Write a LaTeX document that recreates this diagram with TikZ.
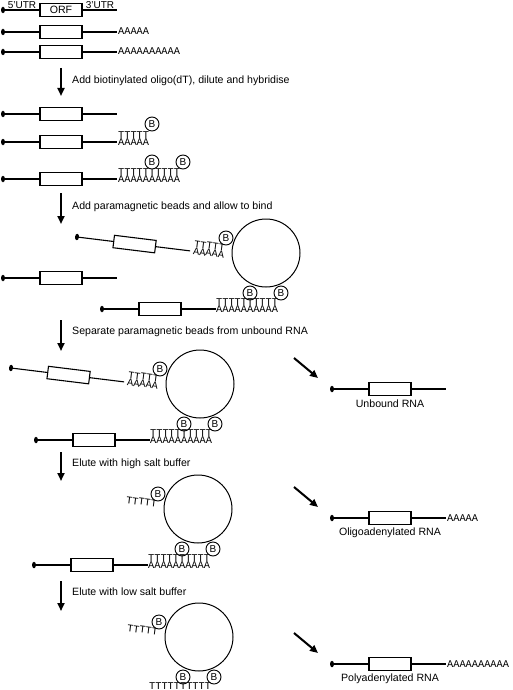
\documentclass[tikz,border=0pt]{standalone}
\usepackage{fontspec}
\setmainfont{Liberation Sans}
\newfontfamily\seqfont{Liberation Mono}
\usetikzlibrary{arrows.meta,shapes.geometric}
\tikzset{
  strand/.style={line width=1.1pt},
  orf/.style={draw, line width=1.1pt, fill=white, rectangle, minimum width=42pt, minimum height=12.5pt, inner sep=0pt},
  capdot/.style={ellipse, fill=black, minimum width=4pt, minimum height=6.5pt, inner sep=0pt},
  seq/.style={inner sep=0pt, text height=6pt, text depth=0pt, font=\seqfont\fontsize{10.3}{10}\selectfont},
  bead/.style={circle, draw, line width=1pt, minimum size=68pt, inner sep=0pt},
  biotin/.style={circle, draw, line width=0.9pt, fill=white, minimum size=14pt, inner sep=0pt, font=\fontsize{10}{10}\selectfont},
  steparrow/.style={line width=2pt, -{Triangle[length=8pt,width=7pt]}},
  diagarrow/.style={line width=2pt, -{Triangle[length=8pt,width=7pt]}},
  steptext/.style={anchor=west, inner sep=0pt, font=\fontsize{10.6}{12}\selectfont},
  prodtext/.style={anchor=center, inner sep=0pt, font=\fontsize{10.6}{12}\selectfont},
  utrtext/.style={anchor=base, inner sep=0pt, font=\fontsize{10}{11}\selectfont},
  rna/.pic={
    \node[capdot] (-cap) at (0,0) {};
    \node[orf] (-orf) at (58,0) {};
    \coordinate (-end) at (114,0);
    \draw[strand] (-cap.center) -- (-orf.west) (-orf.east) -- (-end);
  }
}
\begin{document}
\begin{tikzpicture}[x=1pt, y=-1pt]
\useasboundingbox (0,0) rectangle (512,690);

% ---- initial RNAs
\pic (r1) at (3,10) {rna};
\node[font=\fontsize{10.6}{12}\selectfont, inner sep=0pt] (orflab) at (r1-orf) {ORF};
\node[utrtext] (utr5) at (22,8.3) {5\char"0027UTR};
\node[utrtext] (utr3) at (100,8.3) {3\char"0027UTR};
\pic (r2) at (3,32) {rna};
\node[seq, anchor=base west] (r2a) at (118,35) {AAAAA};
\pic (r3) at (3,52) {rna};
\node[seq, anchor=base west] (r3a) at (118,55) {AAAAAAAAAA};

\coordinate (a1s) at (61,68); \coordinate (a1e) at (61,96);
\draw[steparrow] (a1s) -- (a1e);
\node[steptext] (t1) at (72,81) {Add biotinylated oligo(dT), dilute and hybridise};

% ---- after hybridisation
\pic (r4) at (3,114) {rna};
\pic (r5) at (3,142) {rna};
\node[seq, anchor=base west] (r5a) at (118,145) {AAAAA};
\node[seq, anchor=base west] (r5t) at (118,138) {TTTTT};
\node[biotin] (r5b) at (152,124) {B};
\pic (r6) at (3,179) {rna};
\node[seq, anchor=base west] (r6a) at (118,182) {AAAAAAAAAA};
\node[seq, anchor=base west] (r6t) at (118,175) {TTTTTTTTTT};
\node[biotin] (r6b1) at (152,162) {B};
\node[biotin] (r6b2) at (183,162) {B};

\coordinate (a2s) at (61,193); \coordinate (a2e) at (61,224);
\draw[steparrow] (a2s) -- (a2e);
\node[steptext] (t2) at (72,207) {Add paramagnetic beads and allow to bind};

% ---- group 1
\begin{scope}[shift={(266,253)}]
  \node[bead] (g1) at (0,0) {};
  \begin{scope}[shift={(-189,-16)}, rotate=-7, transform shape]
    \pic (g1t) at (0,0) {rna};
    \node[seq, anchor=base west] (g1ta) at (117,3) {AAAAA};
    \node[seq, anchor=base west] (g1tt) at (117,-4) {TTTTT};
  \end{scope}
  \node[biotin] (g1b0) at (-40,-15) {B};
  \node[biotin] (g1b1) at (-16,40) {B};
  \node[biotin] (g1b2) at (15,40) {B};
  \pic (g1r) at (-164,56) {rna};
  \node[seq, anchor=base west] (g1ra) at (-50,59) {AAAAAAAAAA};
  \node[seq, anchor=base west] (g1rt) at (-50,52) {TTTTTTTTTT};
\end{scope}
\pic (r7) at (3,278) {rna};

\coordinate (a3s) at (61,320); \coordinate (a3e) at (61,351);
\draw[steparrow] (a3s) -- (a3e);
\node[steptext] (t3) at (72,332) {Separate paramagnetic beads from unbound RNA};

% ---- group 2
\begin{scope}[shift={(200,384)}]
  \node[bead] (g2) at (0,0) {};
  \begin{scope}[shift={(-189,-16)}, rotate=-7, transform shape]
    \pic (g2t) at (0,0) {rna};
    \node[seq, anchor=base west] (g2ta) at (117,3) {AAAAA};
    \node[seq, anchor=base west] (g2tt) at (117,-4) {TTTTT};
  \end{scope}
  \node[biotin] (g2b0) at (-40,-15) {B};
  \node[biotin] (g2b1) at (-16,40) {B};
  \node[biotin] (g2b2) at (15,40) {B};
  \pic (g2r) at (-164,56) {rna};
  \node[seq, anchor=base west] (g2ra) at (-50,59) {AAAAAAAAAA};
  \node[seq, anchor=base west] (g2rt) at (-50,52) {TTTTTTTTTT};
\end{scope}
\coordinate (d1s) at (294,358); \coordinate (d1e) at (318,378);
\draw[diagarrow] (d1s) -- (d1e);
\pic (pu) at (332,389) {rna};
\node[prodtext] (pul) at (390,404) {Unbound RNA};

\coordinate (a4s) at (61,452); \coordinate (a4e) at (61,481);
\draw[steparrow] (a4s) -- (a4e);
\node[steptext] (t4) at (72,464) {Elute with high salt buffer};

% ---- group 3
\begin{scope}[shift={(198,509)}]
  \node[bead] (g3) at (0,0) {};
  \begin{scope}[shift={(-189,-16)}, rotate=-7, transform shape]
    \node[seq, anchor=base west] (g3tt) at (117,-4) {TTTTT};
  \end{scope}
  \node[biotin] (g3b0) at (-40,-15) {B};
  \node[biotin] (g3b1) at (-16,40) {B};
  \node[biotin] (g3b2) at (15,40) {B};
  \pic (g3r) at (-164,56) {rna};
  \node[seq, anchor=base west] (g3ra) at (-50,59) {AAAAAAAAAA};
  \node[seq, anchor=base west] (g3rt) at (-50,52) {TTTTTTTTTT};
\end{scope}
\coordinate (d2s) at (294,487); \coordinate (d2e) at (318,507);
\draw[diagarrow] (d2s) -- (d2e);
\pic (po) at (332,518) {rna};
\node[seq, anchor=base west] (poa) at (447,521) {AAAAA};
\node[prodtext] (pol) at (390,533) {Oligoadenylated RNA};

\coordinate (a5s) at (61,581); \coordinate (a5e) at (61,611);
\draw[steparrow] (a5s) -- (a5e);
\node[steptext] (t5) at (72,592) {Elute with low salt buffer};

% ---- group 4
\begin{scope}[shift={(199,637)}]
  \node[bead] (g4) at (0,0) {};
  \begin{scope}[shift={(-189,-16)}, rotate=-7, transform shape]
    \node[seq, anchor=base west] (g4tt) at (117,-4) {TTTTT};
  \end{scope}
  \node[biotin] (g4b0) at (-40,-15) {B};
  \node[biotin] (g4b1) at (-16,40) {B};
  \node[biotin] (g4b2) at (15,40) {B};
  \node[seq, anchor=base west] (g4rt) at (-50,52.5) {TTTTTTTTTT};
\end{scope}
\coordinate (d3s) at (294,633); \coordinate (d3e) at (318,653);
\draw[diagarrow] (d3s) -- (d3e);
\pic (pp) at (332,664) {rna};
\node[seq, anchor=base west] (ppa) at (447,667) {AAAAAAAAAA};
\node[prodtext] (ppl) at (390,679) {Polyadenylated RNA};
\end{tikzpicture}
\end{document}
